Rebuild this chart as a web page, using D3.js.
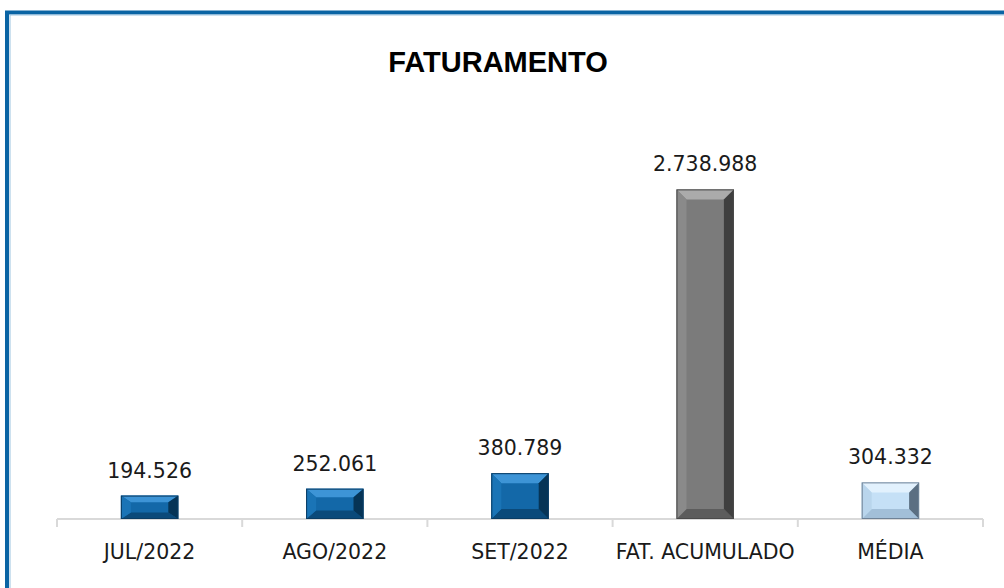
<!DOCTYPE html>
<meta charset="utf-8">
<script src="https://d3js.org/d3.v7.min.js"></script>
<style>
  body { margin: 0; background: #fff; }
</style>
<div id="chart"></div>
<script>

// data
var categories = ["JUL/2022", "AGO/2022", "SET/2022", "FAT. ACUMULADO", "MÉDIA"];
var values = [194526, 252061, 380789, 2738988, 304332];
var labels = ["194.526", "252.061", "380.789", "2.738.988", "304.332"];

var width = 1004, height = 588;
var margin = {top: 158, right: 21, bottom: 69, left: 57};

// bevel colour sets: main, top, bottom, left, right
var palettes = {
  blue:  {main: "#1368a8", top: "#3d94d6", bottom: "#0b4a7a", left: "#1a74b6", right: "#063456", stroke: "#0a3c63"},
  grey:  {main: "#7b7b7b", top: "#ababab", bottom: "#5c5c5c", left: "#8a8a8a", right: "#3f3f3f", stroke: "#4a4a4a"},
  light: {main: "#c5e0f6", top: "#e2f1fd", bottom: "#a2bfd8", left: "#b9d5ec", right: "#5b6f82", stroke: "#6f8296"}
};
var barStyle = ["blue", "blue", "blue", "grey", "light"];

var svg = d3.select("#chart").append("svg")
  .attr("width", width)
  .attr("height", height);

// frame (only top and left edges are visible in the crop)
svg.append("path")
  .attr("d", "M7,588 V12.5 H1004")
  .attr("fill", "none")
  .attr("stroke", "#0a64a4")
  .attr("stroke-width", 4);
svg.append("path")
  .attr("d", "M10,588 V15 H1004")
  .attr("fill", "none")
  .attr("stroke", "#9cc3e0")
  .attr("stroke-width", 1);

// title
svg.append("text")
  .attr("x", 498)
  .attr("y", 72)
  .attr("text-anchor", "middle")
  .style("font-family", "'Liberation Sans', Arial, sans-serif")
  .style("font-weight", "bold")
  .style("font-size", "29px")
  .style("fill", "#000")
  .text("FATURAMENTO");

var innerW = width - margin.left - margin.right,
    innerH = height - margin.top - margin.bottom;

var g = svg.append("g")
  .attr("transform", "translate(" + margin.left + "," + margin.top + ")");

var x = d3.scaleBand()
  .domain(categories)
  .range([0, innerW])
  .paddingInner(0.69)
  .paddingOuter(0.345);

var y = d3.scaleLinear()
  .domain([0, 3000000])
  .range([innerH, 0]);

// axis line and boundary ticks
var axisColor = "#d9d9d9";
g.append("line")
  .attr("x1", 0).attr("x2", innerW)
  .attr("y1", innerH).attr("y2", innerH)
  .attr("stroke", axisColor)
  .attr("stroke-width", 2);

var step = innerW / categories.length;
g.selectAll(".tick-b")
  .data(d3.range(categories.length + 1))
  .enter().append("line")
  .attr("x1", function(i) { return i * step; })
  .attr("x2", function(i) { return i * step; })
  .attr("y1", innerH)
  .attr("y2", innerH + 8)
  .attr("stroke", axisColor)
  .attr("stroke-width", 2);

// category labels through the band axis
var xAxis = g.append("g")
  .attr("transform", "translate(0," + innerH + ")")
  .call(d3.axisBottom(x).tickSize(0).tickPadding(25));
xAxis.select(".domain").remove();
xAxis.selectAll("text")
  .style("font-family", "'DejaVu Sans', sans-serif")
  .style("font-size", "20.5px")
  .style("fill", "#1a1a1a");

// bevelled bars
var bars = g.selectAll(".bar")
  .data(values)
  .enter().append("g")
  .attr("class", "bar");

bars.each(function(v, i) {
  var p = palettes[barStyle[i]];
  var x0 = x(categories[i]), w = x.bandwidth();
  var y0 = y(v), h = innerH - y0;
  var bx = Math.min(10, w * 0.18), by = Math.min(10, h * 0.28);
  var x1 = x0 + w, y1 = y0 + h;
  var el = d3.select(this);
  el.append("rect")
    .attr("x", x0).attr("y", y0).attr("width", w).attr("height", h)
    .attr("fill", p.main);
  var faces = [
    {c: p.top,    pts: [[x0, y0], [x1, y0], [x1 - bx, y0 + by], [x0 + bx, y0 + by]]},
    {c: p.bottom, pts: [[x0, y1], [x1, y1], [x1 - bx, y1 - by], [x0 + bx, y1 - by]]},
    {c: p.left,   pts: [[x0, y0], [x0 + bx, y0 + by], [x0 + bx, y1 - by], [x0, y1]]},
    {c: p.right,  pts: [[x1, y0], [x1 - bx, y0 + by], [x1 - bx, y1 - by], [x1, y1]]}
  ];
  faces.forEach(function(f) {
    el.append("polygon")
      .attr("points", f.pts.map(function(q) { return q.join(","); }).join(" "))
      .attr("fill", f.c);
  });
  el.append("rect")
    .attr("x", x0 + 0.5).attr("y", y0 + 0.5).attr("width", w - 1).attr("height", h - 1)
    .attr("fill", "none")
    .attr("stroke", p.stroke)
    .attr("stroke-width", 1);
});

// value labels
g.selectAll(".val")
  .data(values)
  .enter().append("text")
  .attr("x", function(d, i) { return x(categories[i]) + x.bandwidth() / 2; })
  .attr("y", function(d) { return y(d) - 18; })
  .attr("text-anchor", "middle")
  .style("font-family", "'DejaVu Sans', sans-serif")
  .style("font-size", "20.5px")
  .style("fill", "#1a1a1a")
  .text(function(d, i) { return labels[i]; });

</script>
